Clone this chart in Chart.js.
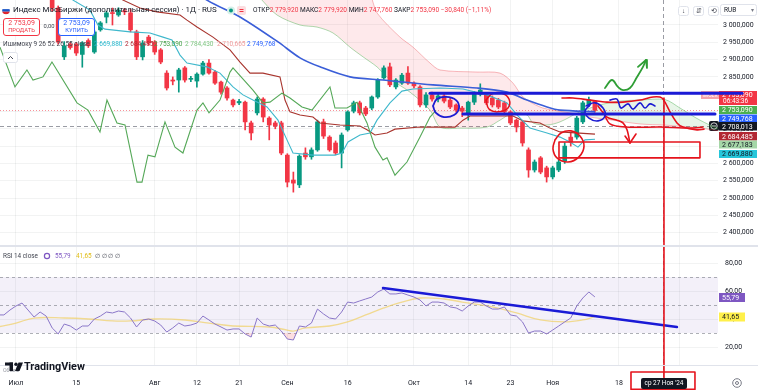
<!DOCTYPE html>
<html>
<head>
<meta charset="utf-8">
<script src="https://cdn.jsdelivr.net/npm/chart.js@4.4.1/dist/chart.umd.min.js"></script>
<style>
html, body { margin: 0; padding: 0; background: #fff; }
#wrap { position: relative; width: 758px; height: 390px; overflow: hidden; background: #fff; }
canvas { position: absolute; left: 0; }
#priceCanvas { top: 0; }
#rsiCanvas { top: 247px; }
</style>
</head>
<body>
<div id="wrap">
    <canvas id="priceCanvas" width="758" height="247"></canvas>
    <canvas id="rsiCanvas" width="758" height="143"></canvas>
</div>
<script>
    // свечи по торговым дням, индекс 0 = 1 июля
    var opens = [3140,3150,3135,3120,3140,3115,3110,3049,2908,2945,
        2945,2915,2955,2922,2986,3023,3035,3029,3040,3035,
        2980,2908,2965,2951,2928,2861,2841,2841,2876,2843,
        2838,2858,2890,2864,2835,2818,2783,2775,2777,2717,
        2746,2786,2731,2717,2717,2624,2552,2538,2630,2619,
        2639,2720,2676,2659,2630,2697,2751,2775,2760,2760,
        2792,2847,2879,2821,2832,2861,2832,2821,2769,2798,
        2786,2795,2783,2769,2760,2746,2777,2800,2798,2789,
        2783,2775,2749,2725,2720,2639,2581,2616,2587,2561,
        2581,2607,2676,2676,2720,2770,2779.92];
    var highs = [3160,3170,3150,3145,3155,3125,3118,3055,2952,2950,
        2950,2952,2960,2985,3010,3040,3049,3050,3048,3045,
        2985,2955,2970,2955,2932,2868,2850,2875,2880,2852,
        2862,2895,2900,2868,2838,2822,2786,2785,2780,2722,
        2792,2790,2735,2722,2722,2628,2575,2625,2645,2645,
        2725,2728,2680,2665,2688,2752,2780,2780,2765,2795,
        2845,2882,2890,2845,2860,2880,2836,2825,2805,2806,
        2800,2800,2788,2772,2765,2780,2808,2830,2805,2795,
        2788,2780,2752,2728,2723,2645,2610,2620,2592,2592,
        2610,2660,2690,2736,2780,2792,2779.92];
    var lows = [3120,3130,3110,3105,3110,3090,3040,2945,2900,2930,
        2912,2878,2935,2918,2982,3006,3000,3025,3030,2980,
        2900,2899,2942,2915,2888,2812,2827,2806,2835,2836,
        2820,2855,2858,2828,2800,2783,2763,2770,2697,2668,
        2740,2720,2668,2700,2625,2532,2517,2530,2612,2612,
        2635,2672,2635,2625,2587,2693,2746,2740,2738,2755,
        2788,2843,2822,2815,2828,2828,2818,2763,2762,2780,
        2778,2775,2758,2748,2735,2725,2770,2795,2770,2763,
        2758,2745,2712,2691,2650,2560,2575,2570,2546,2555,
        2576,2600,2650,2670,2715,2765,2747.76];
    var closes = [3150,3135,3120,3140,3115,3110,3049,2951,2940,2935,
        2919,2948,2940,2980,3006,3035,3033,3043,3038,2986,
        2908,2948,2948,2922,2893,2818,2838,2870,2841,2845,
        2858,2890,2861,2832,2806,2789,2769,2779,2720,2688,
        2786,2734,2711,2708,2630,2546,2543,2621,2619,2639,
        2720,2679,2639,2630,2682,2749,2775,2746,2743,2792,
        2841,2876,2827,2841,2855,2832,2824,2769,2798,2786,
        2795,2780,2763,2754,2751,2777,2803,2812,2775,2769,
        2763,2749,2717,2705,2659,2581,2604,2575,2561,2587,
        2604,2650,2662,2731,2775,2784,2753.09];

    // Ишимоку и средняя (индекс бара, цена)
    var tenkanIdx = [7.3,9.45,12.27,13.6,14.76,18.91,22.22,24.38,25.87,27.2,28.36,31.67,33.83,35.99,37.65,39.3,41.63,43.45,44.94,45.94,49.25,52.9,54.06,55.06,57.05,58.71,59.87,62.02,64.01,65.84,70.32,74.13,78.11,81.43,83.08,85.24,88.06,90.22,91.87,93.2,94.36,96.02];
    var tenkanVal = [3116,3072,3043,3000,2988,2980,2977,2965,2957,2913,2890,2879,2861,2821,2798,2783,2763,2725,2668,2630,2624,2624,2630,2662,2682,2688,2725,2775,2809,2815,2818,2815,2798,2775,2740,2702,2688,2676,2662,2647,2668,2669.88];
    var kijunIdx = [13.93,17.74,20.56,23.38,27.2,28.36,30.02,32.67,35.49,37.15,38.81,40.96,43.78,44.61,45.44,47.1,49.25,50.41,53.73,57.05,58.21,59.54,61.53,62.85,67.0,72.8,74.13,75.29,82.42,84.08,86.9,88.56,90.22,96.02];
    var kijunVal = [3116,3072,3049,3038,3029,3014,2994,2965,2928,2893,2861,2861,2850,2783,2749,2740,2734,2717,2711,2708,2697,2682,2688,2699,2705,2705,2725,2737,2737,2723,2717,2702,2691,2684.49];
    var chikouIdx = [-2.65,-0.17,1.82,2.82,4.48,5.97,10.12,11.94,13.93,15.09,16.75,18.08,20.07,20.9,21.89,23.05,24.71,26.37,27.69,30.02,31.01,32.01,33.83,35.49,35.99,39.3,40.96,42.12,44.11,45.44,47.43,49.09,52.07,52.9,54.89,56.55,58.21,59.54,60.86,61.53,62.85,64.84,67.0,68.66,69.65];
    var chikouVal = [2936,2821,2870,2841,2850,2893,2775,2754,2691,2783,2717,2711,2546,2546,2624,2619,2720,2647,2630,2754,2775,2746,2783,2864,2876,2812,2775,2777,2803,2789,2763,2754,2821,2760,2760,2777,2717,2647,2610,2616,2566,2604,2676,2734,2753.09];
    var ma55Idx = [27.2,31.67,37.15,43.45,47.1,50.41,55.39,60.86,69.15,76.45,81.43,84.74,88.06,90.22,96.02];
    var ma55Val = [3130,3072,3023,2951,2905,2879,2850,2841,2827,2818,2806,2783,2763,2754,2749.77];
    var spanAIdx = [38.81,40.47,43.28,47.1,49.92,52.57,55.39,57.55,59.87,61.53,65.34,68.66,70.32,73.63,78.11,80.27,82.42,84.74,85.74,88.06,90.22,93.53,96.85,100.17,103.48,107.63,110.12,113.43,116.75,120.9];
    var spanAVal = [3110,3078,3029,3000,2994,2977,2936,2908,2879,2850,2806,2754,2705,2702,2705,2725,2746,2740,2717,2711,2720,2749,2769,2780,2783,2784.43,2760,2725,2700,2694];
    var spanBIdx = [38.81,47.1,55.39,58.71,59.87,63.68,65.84,68.66,70.32,76.45,80.27,82.42,84.08,86.9,89.05,91.87,95.19,98.51,103.48,107.63,113.43,116.75,120.9];
    var spanBVal = [3159,3130,3145,3087,3035,2965,2936,2890,2870,2864,2861,2832,2792,2763,2754,2746,2734,2726,2714,2710.67,2702,2694,2688];

    // RSI с 28 июня (индекс -3)
    var rsiStart = -3;
    var rsiValues = [42.9,42.9,46.4,49.3,51.4,46.4,41.4,45.0,42.1,33.6,
        29.3,36.4,35.0,32.1,35.0,35.0,40.0,42.1,45.0,44.3,
        45.7,45.0,40.7,34.3,39.3,40.0,38.6,35.7,30.7,33.6,
        37.1,35.0,35.7,37.1,42.1,39.3,36.4,34.3,32.1,32.9,
        32.9,29.3,27.1,40.7,36.4,35.0,35.7,31.4,25.7,25.0,
        35.0,34.3,37.1,47.1,43.6,40.7,40.0,45.0,52.1,51.4,
        52.9,54.3,55.7,59.3,61.4,57.9,57.9,58.6,57.1,55.7,
        53.6,49.3,52.1,52.1,51.4,48.6,47.9,45.7,49.3,52.1,
        52.1,49.3,47.1,47.1,48.6,42.9,42.1,37.9,30.0,31.4,
        31.4,29.3,32.1,35.0,37.9,40.7,49.3,55.0,59.3,55.79];
    var rsiMaIdx = [-3,0,3,8,12,16,19,23,28,32,36,42,45,46,48,52,55,58,61,64,67,71,74,79,83,87,91,94,96];
    var rsiMaVal = [34.3,37.1,40.7,40.7,40.0,38.6,38.6,40.0,39.3,37.1,35.0,34.3,32.1,31.4,33.6,35.0,37.9,42.9,47.9,52.1,55.0,54.3,52.1,48.6,44.3,39.3,37.9,39.3,41.65];

    var dateTickIdx = [0,10,23,30,37,45,55,66,75,82,89,100,110];
    var dateTickText = ['Июл','15','Авг','12','21','Сен','16','Окт','14','23','Ноя','18','Дек'];
    var priceTicks = [2400,2450,2500,2550,2600,2650,2700,2750,2800,2850,2900,2950,3000];
    var rsiTicks = [20,40,60,80];

    // рисунки пользователя (индекс бара, цена / значение RSI)
    var drawBlueTop = [[68.66,2803],[120.4,2803]];
    var drawBlueLow = [[74.13,2743],[115.92,2743]];
    var drawBlueOval = [[69.15,2766],[69.82,2786],[71.31,2792],[72.97,2783],[73.47,2760],[72.64,2740],[70.98,2734],[69.65,2746],[69.15,2766]];
    var drawBlueLoop = [[94.53,2766],[96.02,2775],[97.35,2760],[97.68,2737],[96.52,2723],[95.02,2731],[94.36,2751],[95.19,2769]];
    var drawBlueWave = [[98.51,2783],[99.67,2786],[100.33,2760],[101.49,2772],[102.32,2757],[103.48,2775],[104.31,2760],[105.14,2772],[105.97,2766]];
    var drawGreenWave = [[97.68,2818],[98.84,2841],[99.83,2821],[100.66,2812],[101.82,2818],[102.99,2850],[103.98,2879],[104.48,2899]];
    var drawGreenHead = [[103.15,2879],[104.48,2899],[104.64,2876]];
    var drawRedCurveTop = [[90.55,2789],[92.37,2789],[95.19,2783],[98.01,2777],[100.66,2777],[103.48,2783],[105.64,2792],[107.13,2789],[108.46,2749],[109.62,2717],[110.61,2705],[112.94,2697],[114.1,2699]];
    var drawRedCurveDown = [[96.52,2766],[98.01,2734],[99.67,2725],[100.66,2717],[101.33,2697],[101.82,2659]];
    var drawRedHead = [[101.0,2679],[101.82,2659],[102.82,2685]];
    var drawRedLow = [[97.35,2749],[98.51,2714],[100.99,2705],[106.8,2705],[111.77,2702],[113.93,2705]];
    var drawRedCircle = [[89.39,2668],[90.38,2688],[92.04,2694],[93.53,2679],[94.2,2650],[93.37,2619],[91.54,2604],[89.72,2616],[89.05,2642],[89.39,2668]];
    var drawRedOval = [[77.94,2783],[78.94,2801],[80.6,2803],[81.76,2786],[81.59,2760],[79.93,2749],[78.44,2757],[77.94,2783]];
    var drawRedBox = [[90.05,2662],[113.43,2662],[113.43,2616],[90.05,2616],[90.05,2662]];
    var drawRedVertical = [[107.46,2789],[107.46,2300]];
    var drawRsiTrend = [[60.86,62.14],[109.62,34.29]];
    var drawRsiVertical = [[107.46,95],[107.46,-3.6]];
    var drawDateBox = [[101.99,2.14],[112.6,2.14],[112.6,-10.3],[101.99,-10.3],[101.99,2.14]];

    var lastClose = 2753.09;
    var crossPrice = 2708.013;
    var crossIdx = 107.3;

    var FONT = 'Roboto, "Noto Sans", sans-serif';
    var UP = '#089981';
    var DOWN = '#f23645';
    var TEXT = '#131722';
    var GRID = 'rgba(42, 46, 57, 0.06)';
    var X_MIN = -2.65, X_MAX = 116.42;

    function toXY(idx, vals) {
        return idx.map(function (x, k) { return { x: x, y: vals[k] }; });
    }

    function pairs(arr) {
        return arr.map(function (p) { return { x: p[0], y: p[1] }; });
    }

    function fmtTick(v) {
        var s = String(Math.round(v));
        return s.slice(0, s.length - 3) + ' ' + s.slice(-3) + ',000';
    }

    function roundRect(ctx, x, y, w, h, r) {
        ctx.beginPath();
        ctx.moveTo(x + r, y);
        ctx.arcTo(x + w, y, x + w, y + h, r);
        ctx.arcTo(x + w, y + h, x, y + h, r);
        ctx.arcTo(x, y + h, x, y, r);
        ctx.arcTo(x, y, x + w, y, r);
        ctx.closePath();
    }

    function text(ctx, s, x, y, size, color, align, weight) {
        ctx.font = (weight || 'normal') + ' ' + size + 'px ' + FONT;
        ctx.fillStyle = color;
        ctx.textAlign = align || 'left';
        ctx.textBaseline = 'middle';
        ctx.fillText(s, x, y);
        return ctx.measureText(s).width;
    }

    function fitSize(ctx, s, width, weight) {
        ctx.font = (weight || 'normal') + ' 10px ' + FONT;
        return 10 * width / ctx.measureText(s).width;
    }

    function mark(points, color, width, order, extra) {
        var ds = {
            type: 'line', data: pairs(points), borderColor: color, borderWidth: width,
            pointRadius: 0, fill: false, tension: 0, order: order,
            borderCapStyle: 'round', borderJoinStyle: 'round'
        };
        for (var k in (extra || {})) {
            ds[k] = extra[k];
        }
        return ds;
    }

    function hline(ctx, x1, y1, x2, y2) {
        ctx.beginPath();
        ctx.moveTo(x1, y1);
        ctx.lineTo(x2, y2);
        ctx.stroke();
    }

    function badge(ctx, label, top, h, fill, color) {
        ctx.fillStyle = fill;
        ctx.fillRect(719, top, 38, h);
        text(ctx, label, 722, top + h / 2 + 0.5, 7, color);
    }

    var candleIdx = opens.map(function (o, k) { return k; });
    var candleColors = opens.map(function (o, k) { return closes[k] >= o ? UP : DOWN; });
    var wickData = candleIdx.map(function (k) { return { x: k, y: [lows[k], highs[k]] }; });
    var bodyData = candleIdx.map(function (k) { return { x: k, y: [opens[k], closes[k]] }; });
    var rsiData = rsiValues.map(function (v, k) { return { x: rsiStart + k, y: v }; });

    var pricePanePlugin = {
        id: 'pricePane',
        beforeDatasetsDraw: function (chart) {
            var ctx = chart.ctx, a = chart.chartArea;
            var xs = chart.scales.x, ys = chart.scales.y;
            ctx.save();
            ctx.lineWidth = 1;
            ctx.strokeStyle = 'rgba(242, 54, 69, 0.55)';
            ctx.setLineDash([1, 2]);
            var yl = Math.round(ys.getPixelForValue(lastClose)) + 0.5;
            hline(ctx, a.left, yl, a.right, yl);
            ctx.strokeStyle = 'rgba(120, 123, 134, 0.75)';
            ctx.setLineDash([4, 3]);
            var yc = Math.round(ys.getPixelForValue(crossPrice)) + 0.5;
            hline(ctx, a.left, yc, a.right, yc);
            var xc = Math.round(xs.getPixelForValue(crossIdx)) + 0.5;
            hline(ctx, xc, a.top, xc, a.bottom);
            ctx.setLineDash([]);

            // метки на шкале цены
            ctx.fillStyle = '#f7a3aa';
            ctx.fillRect(701, 91, 18, 8);
            text(ctx, 'IMOEX', 710, 95.5, 5, '#ffffff', 'center');
            ctx.fillStyle = DOWN;
            ctx.fillRect(719, 91, 38, 14);
            text(ctx, '2 753,090', 722, 95, 7, '#ffffff');
            text(ctx, '06:43:36', 723, 101.5, 6.5, '#ffffff');
            badge(ctx, '2 753,090', 106, 8, '#4caf50', '#ffffff');
            badge(ctx, '2 749,768', 114.5, 7.5, '#2962ff', '#ffffff');
            badge(ctx, '2 708,013', 122, 8.5, TEXT, '#ffffff');
            roundRect(ctx, 709, 121, 10, 10, 2);
            ctx.fillStyle = TEXT;
            ctx.fill();
            ctx.strokeStyle = '#ffffff';
            ctx.lineWidth = 0.8;
            ctx.beginPath();
            ctx.arc(714, 126, 3.2, 0, Math.PI * 2);
            ctx.stroke();
            hline(ctx, 712, 126, 716, 126);
            badge(ctx, '2 684,485', 132, 8.5, '#b22833', '#ffffff');
            badge(ctx, '2 677,183', 140.5, 8, '#a5d6a7', TEXT);
            badge(ctx, '2 669,880', 150, 8, '#26c6da', TEXT);
            ctx.restore();
        },
        afterDraw: function (chart) {
            var ctx = chart.ctx;
            ctx.save();
            ctx.fillStyle = '#e0e3eb';
            ctx.fillRect(0, 245, 758, 2);

            // флаг и заголовок
            ctx.save();
            ctx.beginPath();
            ctx.arc(6, 10.5, 3.8, 0, Math.PI * 2);
            ctx.clip();
            ctx.fillStyle = '#ffffff';
            ctx.fillRect(2, 6.5, 8, 2.6);
            ctx.fillStyle = '#1c57c7';
            ctx.fillRect(2, 9.1, 8, 2.6);
            ctx.fillStyle = '#e0262f';
            ctx.fillRect(2, 11.7, 8, 3);
            ctx.restore();
            var title = 'Индекс МосБиржи (дополнительная сессия) · 1Д · RUS';
            text(ctx, title, 13, 10.5, fitSize(ctx, title, 204), TEXT);

            ctx.fillStyle = '#d6f0ea';
            ctx.beginPath();
            ctx.arc(231, 10.5, 4, 0, Math.PI * 2);
            ctx.fill();
            ctx.fillStyle = UP;
            ctx.beginPath();
            ctx.arc(231, 10.5, 2, 0, Math.PI * 2);
            ctx.fill();
            roundRect(ctx, 237, 6, 9, 9, 2);
            ctx.fillStyle = '#fcdde0';
            ctx.fill();
            ctx.strokeStyle = DOWN;
            ctx.lineWidth = 1;
            hline(ctx, 239.5, 9.5, 243.5, 9.5);
            hline(ctx, 239.5, 11.5, 243.5, 11.5);

            var segs = [['ОТКР', TEXT], ['2 779,920', DOWN], [' МАКС', TEXT], ['2 779,920', DOWN],
                [' МИН', TEXT], ['2 747,760', DOWN], [' ЗАКР', TEXT], ['2 753,090', DOWN],
                [' −30,840 (−1,11%)', DOWN]];
            var full = segs.map(function (s) { return s[0]; }).join('');
            var ohlcSize = fitSize(ctx, full, 239);
            var x = 253;
            segs.forEach(function (s) {
                x += text(ctx, s[0], x, 10.5, ohlcSize, s[1]);
            });

            // кнопки продать / купить
            roundRect(ctx, 3.5, 18.5, 36, 17, 2.5);
            ctx.fillStyle = '#ffffff';
            ctx.fill();
            ctx.strokeStyle = DOWN;
            ctx.stroke();
            text(ctx, '2 753,09', 21.5, 23.5, 7, DOWN, 'center');
            text(ctx, 'ПРОДАТЬ', 21.5, 31, 5.8, DOWN, 'center');
            text(ctx, '0,00', 49, 27, 5.8, '#434651', 'center');
            roundRect(ctx, 58.5, 18.5, 36, 17, 2.5);
            ctx.fillStyle = '#ffffff';
            ctx.fill();
            ctx.strokeStyle = '#2962ff';
            ctx.stroke();
            text(ctx, '2 753,09', 76.5, 23.5, 7, '#2962ff', 'center');
            text(ctx, 'КУПИТЬ', 76.5, 31, 5.8, '#2962ff', 'center');

            // легенда индикатора
            var leg = 'Ишимоку 9 26 52 26 55 close';
            var legSize = fitSize(ctx, leg, 87);
            text(ctx, leg, 3, 44, legSize, '#434651');
            var legVals = [['2 669,880', '#26b6cc', 94], ['2 684,485', '#b22833', 125], ['2 753,090', '#43a047', 154],
                ['2 784,430', '#81c784', 185], ['2 710,665', '#ef9a9a', 217], ['2 749,768', '#2962ff', 247]];
            legVals.forEach(function (v) {
                text(ctx, v[0], v[2], 44, legSize, v[1]);
            });

            roundRect(ctx, 3.5, 52.5, 14, 10, 2);
            ctx.fillStyle = '#ffffff';
            ctx.fill();
            ctx.strokeStyle = '#e0e3eb';
            ctx.stroke();
            ctx.strokeStyle = '#434651';
            ctx.beginPath();
            ctx.moveTo(8, 59);
            ctx.lineTo(10.5, 56.5);
            ctx.lineTo(13, 59);
            ctx.stroke();

            // кнопки справа сверху
            [678, 693, 708].forEach(function (bx, k) {
                roundRect(ctx, bx + 0.5, 6.5, 10, 9, 2);
                ctx.fillStyle = '#ffffff';
                ctx.fill();
                ctx.strokeStyle = '#e0e3eb';
                ctx.stroke();
                text(ctx, ['↓', '⇵', '⟲'][k], bx + 5.5, 11, 6.5, '#434651', 'center');
            });
            roundRect(ctx, 720.5, 4.5, 36, 11, 2);
            ctx.fillStyle = '#ffffff';
            ctx.fill();
            ctx.strokeStyle = '#e0e3eb';
            ctx.stroke();
            text(ctx, 'RUB', 724, 10.5, 6.5, TEXT);
            text(ctx, '▾', 752, 10.5, 6, '#787b86', 'center');
            ctx.restore();
        }
    };

    new Chart(document.getElementById('priceCanvas'), {
        type: 'bar',
        data: {
            datasets: [
                { type: 'line', data: toXY(spanAIdx, spanAVal), borderColor: 'rgba(76, 175, 80, 0.45)', borderWidth: 1, pointRadius: 0, tension: 0.3,
                    fill: { target: 1, above: 'rgba(76, 175, 80, 0.13)', below: 'rgba(242, 54, 69, 0.11)' }, order: 40 },
                { type: 'line', data: toXY(spanBIdx, spanBVal), borderColor: 'rgba(242, 54, 69, 0.35)', borderWidth: 1, pointRadius: 0, tension: 0.3, fill: false, order: 39 },
                { type: 'bar', data: wickData, backgroundColor: candleColors, barThickness: 1, grouped: false, minBarLength: 1, order: 31 },
                { type: 'bar', data: bodyData, backgroundColor: candleColors, barThickness: 4, grouped: false, minBarLength: 1, order: 30 },
                { type: 'line', data: toXY(ma55Idx, ma55Val), borderColor: '#3a5ed8', borderWidth: 1.6, pointRadius: 0, tension: 0.3, fill: false, order: 24 },
                { type: 'line', data: toXY(kijunIdx, kijunVal), borderColor: '#a8342d', borderWidth: 1.1, pointRadius: 0, fill: false, order: 23 },
                { type: 'line', data: toXY(tenkanIdx, tenkanVal), borderColor: '#3fb8cc', borderWidth: 1.1, pointRadius: 0, fill: false, order: 22 },
                { type: 'line', data: toXY(chikouIdx, chikouVal), borderColor: '#55a858', borderWidth: 1.1, pointRadius: 0, fill: false, order: 21 },
                mark(drawRedVertical, '#e5131c', 1.6, 12),
                mark(drawRedBox, '#e5131c', 1.6, 11),
                mark(drawRedCircle, '#e5131c', 1.6, 10, { tension: 0.4 }),
                mark(drawRedOval, '#e5131c', 1.5, 10, { tension: 0.4 }),
                mark(drawRedCurveTop, '#e5131c', 1.6, 9, { tension: 0.3 }),
                mark(drawRedCurveDown, '#e5131c', 1.6, 9, { tension: 0.3 }),
                mark(drawRedHead, '#e5131c', 1.6, 9),
                mark(drawRedLow, '#e5131c', 1.5, 9, { tension: 0.3 }),
                mark(drawGreenWave, '#2f9e35', 1.8, 8, { tension: 0.4 }),
                mark(drawGreenHead, '#2f9e35', 1.8, 8),
                mark(drawBlueOval, '#1c1cd2', 1.8, 7, { tension: 0.45 }),
                mark(drawBlueLoop, '#1c1cd2', 1.6, 7, { tension: 0.45 }),
                mark(drawBlueWave, '#1c1cd2', 1.6, 7, { tension: 0.4 }),
                mark(drawBlueTop, '#1a1ad6', 3, 6, { clip: false }),
                mark(drawBlueLow, '#1a1ad6', 3, 6)
            ]
        },
        options: {
            responsive: false,
            animation: false,
            events: [],
            devicePixelRatio: 1,
            layout: { padding: 0, autoPadding: false },
            plugins: { legend: { display: false }, tooltip: { enabled: false } },
            scales: {
                x: {
                    type: 'linear', min: X_MIN, max: X_MAX, offset: false,
                    afterBuildTicks: function (s) { s.ticks = dateTickIdx.map(function (v) { return { value: v }; }); },
                    afterFit: function (s) { s.height = 0; },
                    ticks: { display: false },
                    grid: { color: GRID, drawTicks: false, offset: false },
                    border: { display: false }
                },
                y: {
                    type: 'linear', position: 'right', min: 2358.42, max: 3072.25,
                    afterBuildTicks: function (s) { s.ticks = priceTicks.map(function (v) { return { value: v }; }); },
                    afterFit: function (s) { s.width = 40; s.paddingTop = 0; s.paddingBottom = 0; },
                    ticks: { padding: 5, autoSkip: false, color: TEXT, font: { family: FONT, size: 7 }, callback: fmtTick },
                    grid: { color: GRID, drawTicks: false },
                    border: { display: false }
                }
            }
        },
        plugins: [pricePanePlugin]
    });

    var rsiPanePlugin = {
        id: 'rsiPane',
        beforeDatasetsDraw: function (chart) {
            var ctx = chart.ctx, a = chart.chartArea;
            var xs = chart.scales.x, ys = chart.scales.y;
            ctx.save();
            var y70 = ys.getPixelForValue(70), y50 = ys.getPixelForValue(50), y30 = ys.getPixelForValue(30);
            ctx.fillStyle = 'rgba(126, 87, 194, 0.09)';
            ctx.fillRect(a.left, y70, a.right - a.left, y30 - y70);
            ctx.strokeStyle = 'rgba(120, 123, 134, 0.6)';
            ctx.lineWidth = 1;
            ctx.setLineDash([3, 3]);
            [y70, y50, y30].forEach(function (y) {
                var yy = Math.round(y) + 0.5;
                hline(ctx, a.left, yy, a.right, yy);
            });
            ctx.strokeStyle = 'rgba(120, 123, 134, 0.75)';
            ctx.setLineDash([4, 3]);
            var xc = Math.round(xs.getPixelForValue(crossIdx)) + 0.5;
            hline(ctx, xc, 0, xc, 143);
            ctx.setLineDash([]);
            ctx.restore();
        },
        afterDraw: function (chart) {
            var ctx = chart.ctx, a = chart.chartArea, xs = chart.scales.x;
            ctx.save();
            ctx.fillStyle = '#e0e3eb';
            ctx.fillRect(0, a.bottom - 1, 758, 1);

            // легенда RSI
            var leg = 'RSI 14 close';
            var size = fitSize(ctx, leg, 35);
            text(ctx, leg, 3, 9, size, '#434651');
            ctx.strokeStyle = '#7e57c2';
            ctx.lineWidth = 1.2;
            ctx.beginPath();
            ctx.arc(47, 9, 2.6, 0, Math.PI * 2);
            ctx.stroke();
            text(ctx, '55,79', 55, 9, size, '#7e57c2');
            text(ctx, '41,65', 76, 9, size, '#e0bd16');
            text(ctx, '∅ ∅ ∅ ∅', 95, 9, size, '#434651');

            ctx.fillStyle = '#7e57c2';
            ctx.fillRect(719, 46, 26, 9);
            text(ctx, '55,79', 722, 50.8, 7, '#ffffff');
            ctx.fillStyle = '#fff04a';
            ctx.fillRect(719, 65.5, 26, 9);
            text(ctx, '41,65', 722, 70.3, 7, TEXT);

            // логотип и подписи дат
            text(ctx, 'Объем', 3, 124, 5.2, '#9598a1');
            ctx.fillStyle = TEXT;
            ctx.fillRect(5, 115.5, 8, 3);
            ctx.fillRect(9.5, 115.5, 3.5, 8.5);
            ctx.beginPath();
            ctx.arc(16, 117.2, 1.7, 0, Math.PI * 2);
            ctx.fill();
            ctx.beginPath();
            ctx.moveTo(18.5, 115.5);
            ctx.lineTo(23, 115.5);
            ctx.lineTo(19.5, 124);
            ctx.lineTo(15, 124);
            ctx.closePath();
            ctx.fill();
            var tv = 'TradingView';
            text(ctx, tv, 24, 120, fitSize(ctx, tv, 61, 'bold'), TEXT, 'left', 'bold');

            dateTickIdx.forEach(function (v, k) {
                text(ctx, dateTickText[k], xs.getPixelForValue(v), 136, 7, TEXT, 'center');
            });

            roundRect(ctx, 641, 131, 46, 11, 2);
            ctx.fillStyle = TEXT;
            ctx.fill();
            var lab = 'ср 27 Ноя \'24';
            text(ctx, lab, 664, 136.5, fitSize(ctx, lab, 39), '#ffffff', 'center');

            ctx.strokeStyle = '#787b86';
            ctx.lineWidth = 1;
            ctx.beginPath();
            ctx.arc(737, 136, 4.3, 0, Math.PI * 2);
            ctx.stroke();
            ctx.beginPath();
            ctx.arc(737, 136, 1.5, 0, Math.PI * 2);
            ctx.stroke();
            ctx.restore();
        }
    };

    new Chart(document.getElementById('rsiCanvas'), {
        type: 'line',
        data: {
            datasets: [
                { data: rsiData, borderColor: '#8a76c8', borderWidth: 1, pointRadius: 0, tension: 0,
                    fill: { target: { value: 30 }, above: 'rgba(0, 0, 0, 0)', below: 'rgba(242, 54, 69, 0.16)' }, order: 20 },
                { data: toXY(rsiMaIdx, rsiMaVal), borderColor: 'rgba(240, 210, 110, 0.75)', borderWidth: 1.3, pointRadius: 0, tension: 0.4, fill: false, order: 21 },
                mark(drawRsiTrend, '#1a1ad6', 2.4, 5),
                mark(drawRsiVertical, '#e5131c', 1.6, 4, { clip: false }),
                mark(drawDateBox, '#e5131c', 1.6, 4, { clip: false })
            ]
        },
        options: {
            responsive: false,
            animation: false,
            events: [],
            devicePixelRatio: 1,
            layout: { padding: { left: 0, right: 0, top: 0, bottom: 24 }, autoPadding: false },
            plugins: { legend: { display: false }, tooltip: { enabled: false } },
            scales: {
                x: {
                    type: 'linear', min: X_MIN, max: X_MAX, offset: false,
                    afterBuildTicks: function (s) { s.ticks = dateTickIdx.map(function (v) { return { value: v }; }); },
                    afterFit: function (s) { s.height = 0; },
                    ticks: { display: false },
                    grid: { color: GRID, drawTicks: false },
                    border: { display: false }
                },
                y: {
                    type: 'linear', position: 'right', min: 6.43, max: 91.43,
                    afterBuildTicks: function (s) { s.ticks = rsiTicks.map(function (v) { return { value: v }; }); },
                    afterFit: function (s) { s.width = 40; s.paddingTop = 0; s.paddingBottom = 0; },
                    ticks: { padding: 7, autoSkip: false, color: TEXT, font: { family: FONT, size: 7 },
                        callback: function (v) { return v.toFixed(2).replace('.', ','); } },
                    grid: { color: GRID, drawTicks: false },
                    border: { display: false }
                }
            }
        },
        plugins: [rsiPanePlugin]
    });
</script>
</body>
</html>
